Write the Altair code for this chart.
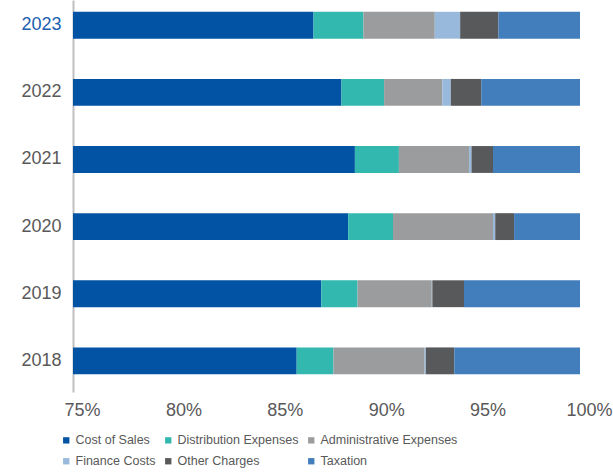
import altair as alt
import pandas as pd

years = ["2018", "2019", "2020", "2021", "2022", "2023"]
categories = ["Cost of Sales", "Distribution Expenses", "Administrative Expenses",
              "Finance Costs", "Other Charges", "Taxation"]
colors = ["#0353A4", "#33B8B0", "#9B9C9E", "#98B9DB", "#58595B", "#427EBB"]

cost_of_sales = [86.03, 87.24, 88.57, 88.90, 88.24, 86.86]
distribution = [1.81, 1.79, 2.21, 2.17, 2.10, 2.46]
administrative = [4.50, 3.66, 4.93, 3.46, 2.87, 3.52]
finance = [0.06, 0.03, 0.11, 0.12, 0.42, 1.25]
other = [1.40, 1.56, 0.93, 1.06, 1.50, 1.89]
taxation = [6.20, 5.72, 3.25, 4.29, 4.87, 4.02]

series = [cost_of_sales, distribution, administrative, finance, other, taxation]
rows = []
for ci, (cat, vals) in enumerate(zip(categories, series)):
    for y, v in zip(years, vals):
        rows.append({"Year": y, "Category": cat, "Share": v / 100.0, "Order": ci})
df = pd.DataFrame(rows)

FONT = "Liberation Sans"

chart = alt.Chart(df).mark_bar(clip=True).encode(
    x=alt.X("Share:Q", stack="zero",
            scale=alt.Scale(domain=[0.75, 1.0], nice=False, zero=False),
            axis=alt.Axis(values=[0.75, 0.8, 0.85, 0.9, 0.95, 1.0], format=".0%",
                          title=None, domain=False, ticks=False, grid=False,
                          labelFont=FONT, labelFontSize=18, labelColor="#595959",
                          labelPadding=9, labelOffset=9, labelFlush=False)),
    y=alt.Y("Year:N", sort="descending",
            scale=alt.Scale(paddingInner=0.6, paddingOuter=0.22, align=0.4),
            axis=alt.Axis(title=None, ticks=False, grid=False, domain=True,
                          domainColor="#BFBFBF", domainWidth=2,
                          labelFont=FONT, labelFontSize=18, labelPadding=12,
                          labelColor=alt.condition("datum.value == '2023'",
                                                   alt.value("#2060B0"),
                                                   alt.value("#595959")))),
    color=alt.Color("Category:N",
                    scale=alt.Scale(domain=categories, range=colors),
                    legend=alt.Legend(title=None, orient="none", direction="horizontal",
                                      legendX=-13, legendY=434,
                                      columns=3, symbolType="square", symbolSize=40,
                                      symbolStrokeWidth=0, labelFont=FONT,
                                      labelFontSize=12.5, labelColor="#595959",
                                      columnPadding=6, rowPadding=8,
                                      labelOffset=3)),
    order=alt.Order("Order:Q", sort="ascending"),
).properties(
    width=507, height=392,
    autosize=alt.AutoSizeParams(type="none"),
    padding={"left": 73, "right": 33, "top": 0, "bottom": 80},
).configure_view(stroke=None)

chart.save("out.html", embed_options={"renderer": "svg", "actions": False})
